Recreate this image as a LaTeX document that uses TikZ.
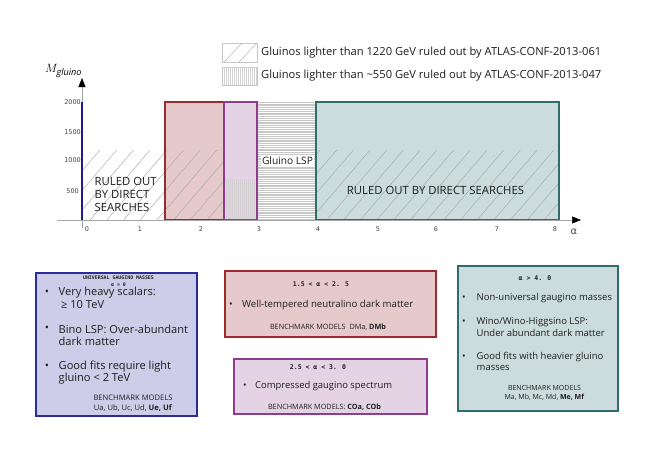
\documentclass[tikz,border=0pt]{standalone}
\usepackage{fontspec}
\setmainfont{Open Sans}
\newfontfamily\monob{DejaVu Sans Mono}
\newfontfamily\tickf{DejaVu Sans}
\usetikzlibrary{arrows.meta}
\definecolor{bluefill}{HTML}{CDCDE9}
\definecolor{blueedge}{HTML}{2B2B9A}
\definecolor{bluebar}{HTML}{1C1C8C}
\definecolor{redfill}{HTML}{E6CACB}
\definecolor{rededge}{HTML}{9E2B2C}
\definecolor{purfill}{HTML}{E3D3E4}
\definecolor{puredge}{HTML}{8E3C8E}
\definecolor{tealfill}{HTML}{CCDCDC}
\definecolor{tealedge}{HTML}{2F6D6D}
\definecolor{txt}{HTML}{1E1E1E}
\definecolor{hatch}{HTML}{A8A8A8}
\newlength\tmplen
\newsavebox\tmpbox
\newcommand\calcfs[3]{\sbox\tmpbox{\normalfont\fontsize{10}{12}\selectfont #3}\tmplen=\wd\tmpbox\relax
  \ifdim\tmplen<1pt\relax\tmplen=#2pt\relax\fi
  \pgfmathsetmacro#1{10*#2/\the\tmplen}}
\newcommand\fsz[1]{\fontsize{#1}{12}\selectfont}
\tikzset{
  ticklab/.style={font=\tickf\fontsize{6.5}{7}\selectfont, text=black!75, inner sep=0pt},
  tx/.style={text=txt, inner sep=0pt},
  headtxt/.style={font=\monob\bfseries\fontsize{6.5}{7}\selectfont, text=txt, inner sep=0pt},
  hline/.style={hatch, line width=0.45pt},
}
\begin{document}
\calcfs\fsLeg{340}{Gluinos lighter than 1220 GeV ruled out by ATLAS-CONF-2013-061}%
\calcfs\fsPlot{239}{RULED OUT BY DIRECT SEARCHESRULED OUT}%
\calcfs\fsLsp{51}{Gluino LSP}%
\calcfs\fsA{339}{Very heavy scalars:Bino LSP: Over-abundantGood fits require light}%
\calcfs\fsB{171}{Well-tempered neutralino dark matter}%
\calcfs\fsC{137}{Compressed gaugino spectrum}%
\calcfs\fsD{262}{Non-universal gaugino massesGood fits with heavier gluino}%
\calcfs\fsBA{79}{BENCHMARK MODELS}%
\calcfs\fsBB{116}{BENCHMARK MODELS\ \ DMa, \textbf{DMb}}%
\calcfs\fsBC{113}{BENCHMARK MODELS: \textbf{COa, COb}}%
\calcfs\fsBD{73}{BENCHMARK MODELS}%
\begin{tikzpicture}[x=1pt,y=-1pt]
\useasboundingbox (0,0) rectangle (651,463);
\fill[white] (0,0) rectangle (651,463);

% ---- legend
\draw[black!22, line width=0.5pt] (222,43) rectangle (257,62);
\begin{scope}
\clip (222,43) rectangle (257,62);
\draw[hatch, line width=0.4pt] (224,62) -- (242,43);
\draw[hatch, line width=0.4pt] (239,62) -- (257,43);
\end{scope}
\draw[black!22, line width=0.5pt] (222,67) rectangle (257,85);
\foreach \i in {224,226,...,256} \draw[black!17, line width=0.35pt] (\i,67) -- (\i,85);
\node[tx, font=\fsz\fsLeg, anchor=west] (leg1) at (261,52.5) {Gluinos lighter than 1220 GeV ruled out by ATLAS-CONF-2013-061};
\node[tx, font=\fsz\fsLeg, anchor=west] (leg2) at (261,76) {Gluinos lighter than \textasciitilde550 GeV ruled out by ATLAS-CONF-2013-047};

% ---- coloured regions
\fill[redfill] (165,102) rectangle (224,220);
\fill[purfill] (224,102) rectangle (257,220);
\fill[tealfill] (316,102) rectangle (559,220);

% Gluino LSP horizontal lines
\foreach \j in {102,103.8,...,220} \draw[black!22, line width=0.35pt] (257,\j) -- (316,\j);

% vertical hatch in purple
\foreach \i in {226,228,...,256} \draw[puredge!25!black!20, line width=0.4pt] (\i,179) -- (\i,220);

% diagonal hatch
\begin{scope}
\clip (82,150) rectangle (224,220);
\foreach \i in {40,56.7,...,240} \draw[hline] (\i,220) -- ++(60,-70);
\end{scope}
\begin{scope}
\clip (316,150) rectangle (559,220);
\foreach \i in {260,276.7,...,560} \draw[hline] (\i,220) -- ++(60,-70);
\end{scope}

% borders
\draw[rededge, line width=1.3pt] (165,102) rectangle (224,220);
\draw[puredge, line width=1.3pt] (224,102) rectangle (257,220);
\draw[tealedge, line width=1.3pt] (316,102) rectangle (559,220);

% ---- axes
\coordinate (xs) at (57,220);
\coordinate (xe) at (581,220);
\coordinate (ys) at (82,228);
\coordinate (ye) at (82,78);
\draw[black!35, line width=0.5pt, -{Triangle[length=9pt,width=7pt,black]}] (xs) -- (xe);
\draw[black!35, line width=0.5pt, -{Triangle[length=9pt,width=7pt,black]}] (ys) -- (ye);
\coordinate (bb) at (82,220);
\coordinate (bt) at (82,102);
\draw[bluebar, line width=2.4pt] (bb) -- (bt);

\node[font=\tickf\fontsize{10}{11}\selectfont, text=black!70, inner sep=0pt] (alab) at (574,232) {α};
\node[font=\fontsize{13}{14}\selectfont, inner sep=0pt, anchor=west] (mlab) at (45,71) {$M_{\mathit{gluino}}$};

% tick labels
\node[ticklab, anchor=east] (t2000) at (81,102) {2000};
\node[ticklab, anchor=east] (t1500) at (81,132) {1500};
\node[ticklab, anchor=east] (t1000) at (81,160) {1000};
\node[ticklab, anchor=east] (t500) at (79,191) {500};
\node[ticklab] (x0) at (87,229) {0};
\node[ticklab] (x1) at (140,229) {1};
\node[ticklab] (x2) at (201,229) {2};
\node[ticklab] (x3) at (259,229) {3};
\node[ticklab] (x4) at (318,229) {4};
\node[ticklab] (x5) at (378,229) {5};
\node[ticklab] (x6) at (436,229) {6};
\node[ticklab] (x7) at (497,229) {7};
\node[ticklab] (x8) at (555,229) {8};

% plot texts
\node[tx, font=\fontsize{\fsPlot}{13}\selectfont, align=left, anchor=west] (ro1) at (94.5,194) {RULED OUT\\BY DIRECT\\SEARCHES};
\node[tx, font=\fsz\fsLsp, fill=white, inner sep=1pt] (glsp) at (287.5,161) {Gluino LSP};
\node[tx, font=\fsz\fsPlot] (ro2) at (435.5,190) {RULED OUT BY DIRECT SEARCHES};

% ---- bottom box A
\draw[blueedge, fill=bluefill, line width=1.2pt] (36,273) rectangle (197,416);
\node[headtxt, font=\monob\bfseries\fontsize{4.9}{6}\selectfont] (ha) at (118.5,277.5) {UNIVERSAL GAUGINO MASSES};
\node[headtxt, font=\monob\bfseries\fontsize{4.9}{6}\selectfont] (ha2) at (118.5,284.5) {α = 0};
\node[tx, font=\fsz\fsA] (ba1) at (47,293) {•};
\node[tx, font=\fsz\fsA, anchor=west] (ta1) at (58.5,293) {Very heavy scalars:};
\node[tx, font=\fsz\fsA, anchor=west] (ta1b) at (61,304.5) {≥ 10 TeV};
\node[tx, font=\fsz\fsA] (ba2) at (47,329) {•};
\node[tx, font=\fsz\fsA, anchor=west] (ta2) at (58.5,329) {Bino LSP: Over-abundant};
\node[tx, font=\fsz\fsA, anchor=west] (ta2b) at (58.5,341) {dark matter};
\node[tx, font=\fsz\fsA] (ba3) at (47,367) {•};
\node[tx, font=\fsz\fsA, anchor=west] (ta3) at (58.5,367) {Good fits require light};
\node[tx, font=\fsz\fsA, anchor=west] (ta3b) at (58.5,378.5) {gluino < 2 TeV};
\node[tx, font=\fsz\fsBA] (bma) at (133,398) {BENCHMARK MODELS};
\node[tx, font=\fsz\fsBA] (bma2) at (133,408) {Ua, Ub, Uc, Ud, \textbf{Ue, Uf}};

% ---- bottom box B
\draw[rededge, fill=redfill, line width=1.2pt] (225,271) rectangle (436,337);
\node[headtxt] (hb) at (321,284) {1.5 < α < 2. 5};
\node[tx, font=\fsz\fsB] (bb1) at (231,305) {•};
\node[tx, font=\fsz\fsB, anchor=west] (tb1) at (242,305) {Well-tempered neutralino dark matter};
\node[tx, font=\fsz\fsBB] (bmb) at (328,327) {BENCHMARK MODELS\ \ DMa, \textbf{DMb}};

% ---- bottom box C
\draw[puredge, fill=purfill, line width=1.2pt] (234,359) rectangle (427,414);
\node[headtxt] (hc) at (318,367) {2.5 < α < 3. 0};
\node[tx, font=\fsz\fsC] (bc1) at (245,386) {•};
\node[tx, font=\fsz\fsC, anchor=west] (tc1) at (255,386) {Compressed gaugino spectrum};
\node[tx, font=\fsz\fsBC] (bmc) at (324.5,407) {BENCHMARK MODELS: \textbf{COa, COb}};

% ---- bottom box D
\draw[tealedge, fill=tealfill, line width=1.2pt] (458,266) rectangle (618,411);
\node[headtxt] (hd) at (535,278) {α > 4. 0};
\node[tx, font=\fsz\fsD] (bd1) at (464,298) {•};
\node[tx, font=\fsz\fsD, anchor=west] (td1) at (476.5,298) {Non-universal gaugino masses};
\node[tx, font=\fsz\fsD] (bd2) at (464,322) {•};
\node[tx, font=\fsz\fsD, anchor=west] (td2) at (476.5,322) {Wino/Wino-Higgsino LSP:};
\node[tx, font=\fsz\fsD, anchor=west] (td2b) at (476.5,333) {Under abundant dark matter};
\node[tx, font=\fsz\fsD] (bd3) at (464,357) {•};
\node[tx, font=\fsz\fsD, anchor=west] (td3) at (476.5,357) {Good fits with heavier gluino};
\node[tx, font=\fsz\fsD, anchor=west] (td3b) at (476.5,368) {masses};
\node[tx, font=\fsz\fsBD] (bmd) at (544.5,388) {BENCHMARK MODELS};
\node[tx, font=\fsz\fsBD] (bmd2) at (544.5,397.5) {Ma, Mb, Mc, Md, \textbf{Me, Mf}};
\end{tikzpicture}
\end{document}
